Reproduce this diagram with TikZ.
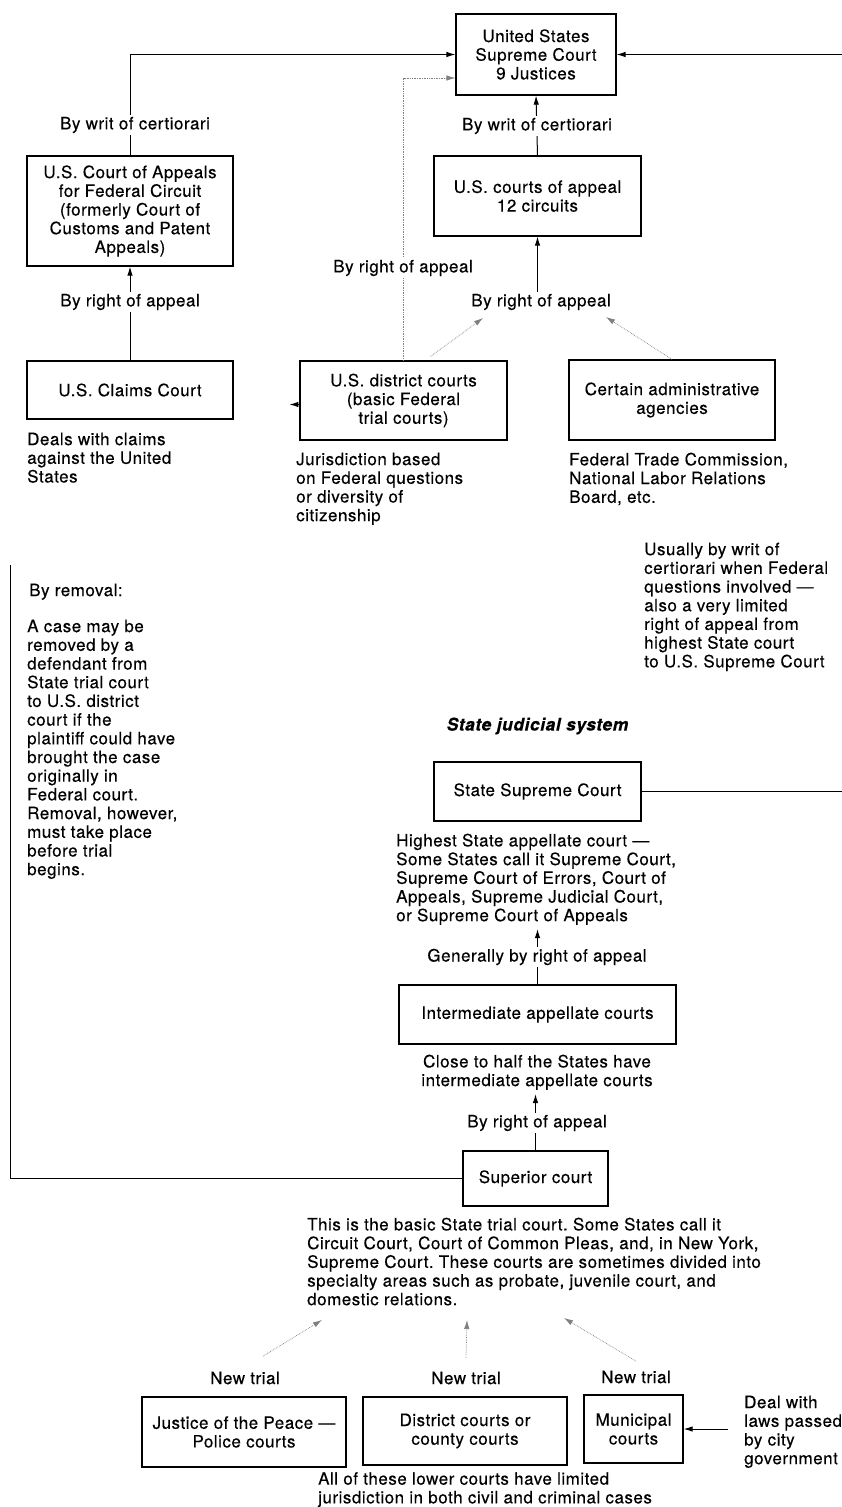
\documentclass[tikz,border=0pt]{standalone}
\usepackage{fontspec}
\setmainfont[LetterSpace=3,FakeBold=0.3]{TeX Gyre Heros}
\usetikzlibrary{arrows.meta}
\frenchspacing

\tikzset{
    every node/.style={font=\fontsize{17}{18.7}\selectfont},
    court/.style={draw, line width=1.2pt, align=center, inner sep=0pt},
    via/.style={fill=white, inner sep=1.5pt},
    nota/.style={align=left, inner sep=0pt, anchor=north west},
    flecha/.style={-{Latex[length=9pt,width=5.5pt]}, line width=1pt},
    punteada/.style={-{Latex[length=9pt,width=5.5pt]}, densely dotted, black!50, line width=0.7pt},
}

\begin{document}
\begin{tikzpicture}[x=1pt, y=-1pt]
    % Marco
    \useasboundingbox (0,0) rectangle (842,1507);
    \fill[white] (0,0) rectangle (842,1507);

    % Tribunales federales
    \node[court, minimum width=160pt, minimum height=81pt] (ussc) at (536,54.5) {United States\\Supreme Court\\9 Justices};
    \node[court, minimum width=206pt, minimum height=110pt] (cafc) at (130,211) {U.S. Court of Appeals\\for Federal Circuit\\(formerly Court of\\Customs and Patent\\Appeals)};
    \node[court, minimum width=207pt, minimum height=80pt] (usca) at (537.5,196) {U.S. courts of appeal\\12 circuits};
    \node[court, minimum width=206pt, minimum height=58pt] (claims) at (130,390) {U.S. Claims Court};
    \node[court, minimum width=207pt, minimum height=79pt] (district) at (403.5,400.5) {U.S. district courts\\(basic Federal\\trial courts)};
    \node[court, minimum width=206pt, minimum height=80pt] (agency) at (672,400) {Certain administrative\\agencies};

    % Notas federales
    \node[nota] (dnote) at (27,432.5) {Deals with claims\\against the United\\States};
    \node[nota] (jnote) at (296,452.5) {Jurisdiction based\\on Federal questions\\or diversity of\\citizenship};
    \node[nota] (fnote) at (569,452.5) {Federal Trade Commission,\\National Labor Relations\\Board, etc.};
    \node[nota] (unote) at (644,542.5) {Usually by writ of\\certiorari when Federal\\questions involved ---\\also a very limited\\right of appeal from\\highest State court\\to U.S. Supreme Court};
    \node[nota] (rtitle) at (29,583.5) {By removal:};
    \node[nota] (rnote) at (27,619.5) {A case may be\\removed by a\\defendant from\\State trial court\\to U.S. district\\court if the\\plaintiff could have\\brought the case\\originally in\\Federal court.\\Removal, however,\\must take place\\before trial\\begins.};

    % Tribunales estatales
    \node[font=\fontsize{17.5}{19}\selectfont\bfseries\itshape] (stitle) at (537.5,726) {State judicial system};
    \node[court, minimum width=207pt, minimum height=59pt] (statesc) at (537.5,791.5) {State Supreme Court};
    \node[nota] (hnote) at (396,833.5) {Highest State appellate court ---\\Some States call it Supreme Court,\\Supreme Court of Errors, Court of\\Appeals, Supreme Judicial Court,\\or Supreme Court of Appeals};
    \node[court, minimum width=277pt, minimum height=59pt] (inter) at (537.5,1014.5) {Intermediate appellate courts};
    \node[align=center, inner sep=0pt, anchor=north] (cnote) at (537,1054.5) {Close to half the States have\\intermediate appellate courts};
    \node[court, minimum width=145pt, minimum height=55pt] (superior) at (535.5,1178.5) {Superior court};
    \node[nota] (snote) at (307,1217.5) {This is the basic State trial court. Some States call it\\Circuit Court, Court of Common Pleas, and, in New York,\\Supreme Court. These courts are sometimes divided into\\specialty areas such as probate, juvenile court, and\\domestic relations.};

    % Tribunales inferiores
    \node (nt1) at (245,1378) {New trial};
    \node (nt2) at (466,1378) {New trial};
    \node (nt3) at (636,1377) {New trial};
    \node[court, minimum width=204pt, minimum height=70pt] (jp) at (244,1432) {Justice of the Peace ---\\Police courts};
    \node[court, minimum width=204pt, minimum height=68pt] (county) at (465,1431) {District courts or\\county courts};
    \node[court, minimum width=99pt, minimum height=68pt] (muni) at (633.5,1429) {Municipal\\courts};
    \node[nota] (dealnote) at (744,1395.5) {Deal with\\laws passed\\by city\\government};
    \node[nota] (lnote) at (318,1472) {All of these lower courts have limited\\jurisdiction in both civil and criminal cases};

    % Puntos sueltos
    \coordinate (ra1) at (483,318);
    \coordinate (ra2) at (606,317);
    \coordinate (redge) at (846,791.5);
    \coordinate (rmtop) at (10,565);
    \coordinate (t1) at (322,1320);
    \coordinate (t2) at (467,1320);
    \coordinate (t3) at (564,1318);
    \coordinate (citylaw) at (728,1429);

    % Conexiones federales
    \draw[flecha] (cafc.north) |- (ussc.west);
    \draw[punteada] (district.north) |- ([yshift=-23.5pt]ussc.west);
    \draw[flecha] (usca.north) -- (ussc.south);
    \draw[flecha] (claims.north) -- (cafc.south);
    \node[via] (ra) at (541,302) {By right of appeal};
    \draw[flecha] (usca.south |- ra.north) -- (usca.south);
    \draw[punteada] ([xshift=27pt,yshift=4pt]district.north) -- (ra1);
    \draw[punteada] (agency.north) -- (ra2);
    \draw[flecha] ([yshift=-4pt]district.west) -- ++(-10,0);
    \node[via] at (135,125) {By writ of certiorari};
    \node[via] at (130,302) {By right of appeal};
    \node[via] at (403,268) {By right of appeal};
    \node[via] at (537,126) {By writ of certiorari};

    % Conexiones estatales
    \draw[flecha] (statesc.east) -- (redge) |- (ussc.east);
    \draw[flecha] (inter.north) -- ([yshift=-4pt]inter.north |- hnote.south);
    \draw[flecha] (superior.north) -- ([yshift=-4pt]superior.north |- cnote.south);
    \node[via] at (537,957) {Generally by right of appeal};
    \node[via] at (537,1123) {By right of appeal};
    \draw[line width=1pt] (superior.west) -| (rmtop);

    % Nuevo juicio
    \draw[punteada] ([shift={(18pt,12pt)}]nt1.north) -- (t1);
    \draw[punteada] ([yshift=10pt]nt2.north) -- (t2);
    \draw[punteada] ([yshift=6pt]nt3.north) -- (t3);
    \draw[flecha] (citylaw) -- (muni.east);
\end{tikzpicture}
\end{document}
